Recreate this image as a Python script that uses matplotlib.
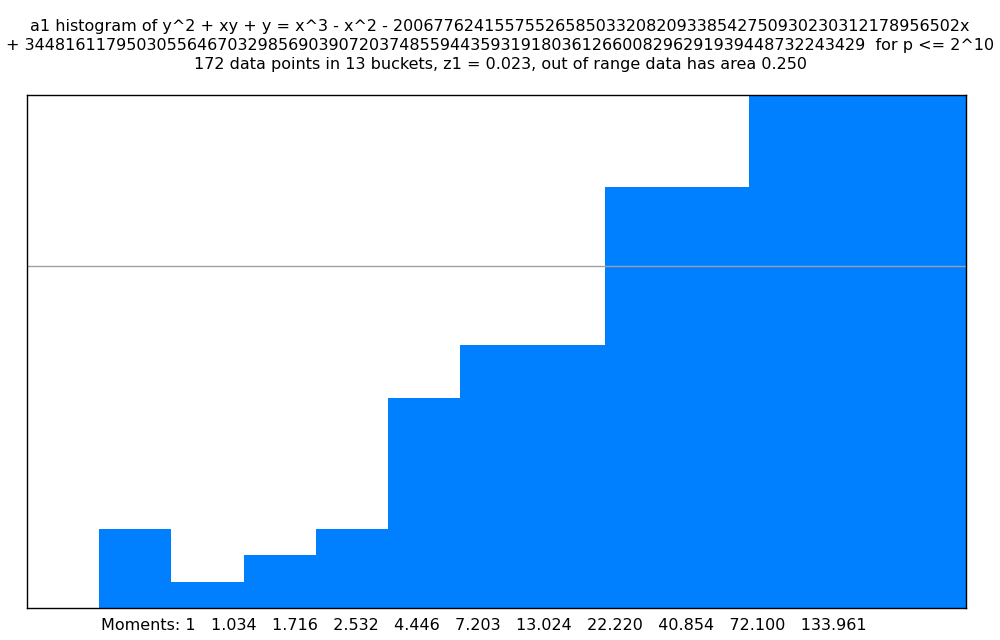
import matplotlib
matplotlib.use("Agg")
from matplotlib import pyplot as plt
import numpy as np

# bucket counts (last three run off the top)
counts = [0, 3, 1, 2, 3, 8, 10, 10, 16, 16, 34, 34, 35]
mean_level = 13.0
ymax = 19.5
moments = ["1", "1.034", "1.716", "2.532", "4.446", "7.203", "13.024",
           "22.220", "40.854", "72.100", "133.961"]

title_lines = [
    "a1 histogram of y^2 + xy + y = x^3 - x^2 - 20067762415575526585033208209338542750930230312178956502x",
    "+ 34481611795030556467032985690390720374855944359319180361266008296291939448732243429  for p <= 2^10",
    "172 data points in 13 buckets, z1 = 0.023, out of range data has area 0.250",
]

fig = plt.figure(figsize=(10, 6.4), dpi=100)
ax = fig.add_axes([0.027, 0.05, 0.939, 0.8016])

nb = len(counts)
ax.bar(np.arange(nb), counts, width=1.0, align="edge", color="#007fff", linewidth=0)
ax.axhline(mean_level, color="#a0a0a0", linewidth=1)

ax.set_xlim(0, nb)
ax.set_ylim(0, ymax)
ax.set_xticks([])
ax.set_yticks([])
for s in ax.spines.values():
    s.set_linewidth(1)
    s.set_color("black")

for i, t in enumerate(title_lines):
    fig.text(0.5, 1 - (26 + 19.5 * i) / 640, t, ha="center", va="center",
             fontsize=11.5, family="DejaVu Sans")

fig.text(0.101, 1 - 625 / 640, "Moments: " + "   ".join(moments),
         ha="left", va="center", fontsize=11.5, family="DejaVu Sans")

fig.savefig("out.png", dpi=100)
